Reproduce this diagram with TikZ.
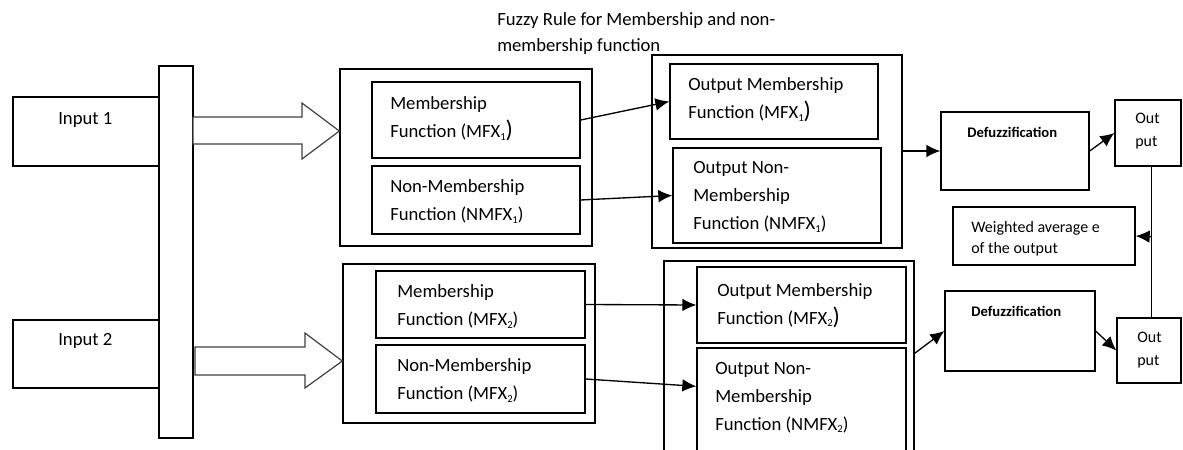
\documentclass[tikz,border=0pt]{standalone}
\usepackage{fontspec}
\setmainfont{Carlito}
\usetikzlibrary{arrows.meta,calc,fit}

% frame node spanning two corner points
\newcommand\frameat[3]{\node[box, fit={#2 #3}] (#1) {};}
% tall closing parenthesis used in some labels
\newcommand\tallparen{{\fontsize{18}{18}\selectfont)}}
% small index digit
\newcommand\idx[1]{\raisebox{-0.3ex}{\fontsize{8}{8}\selectfont #1}}

\tikzset{
  box/.style={draw, line width=1pt, inner sep=0pt},
  txt/.style={anchor=west, inner sep=0pt, align=left,
              font=\fontsize{14}{21}\selectfont},
  smalltxt/.style={anchor=west, inner sep=0pt, align=left,
              font=\fontsize{12}{16}\selectfont},
  boldtxt/.style={anchor=west, inner sep=0pt,
              font=\fontsize{11}{14}\selectfont\bfseries},
  arr/.style={line width=1pt, -{Latex[length=10.5pt,width=9.5pt]}},
  hollow/.style={draw=black!75, line width=0.9pt, fill=white, line join=miter},
}

\begin{document}
\begin{tikzpicture}[x=0.75pt,y=-0.75pt]
\useasboundingbox (0,0) rectangle (1183,450);
\fill[white] (0,0) rectangle (1183,450);
\clip (0,0) rectangle (1183,450);

% inputs and the collecting bar
\frameat{in1}{(13,97)}{(159,166)}
\frameat{in2}{(13,320)}{(159,388)}
\frameat{bar}{(159,66)}{(193,438)}
\node[txt] (in1t) at (58,120) {Input 1};
\node[txt] (in2t) at (58,341) {Input 2};

% fuzzy rule title
\node[txt, font=\fontsize{14}{20}\selectfont] (title) at (497,33.5)
  {Fuzzy Rule for Membership and non-\\membership function};

% input membership groups
\frameat{g1}{(340,69)}{(592,246)}
\frameat{mf1}{(372,82)}{(580,158)}
\frameat{nmf1}{(372,166)}{(580,234)}
\node[txt] (mf1t) at (390,119) {Membership\\Function (MFX\idx{1}\tallparen};
\node[txt] (nmf1t) at (390,201.5) {Non-Membership\\Function (NMFX\idx{1})};

\frameat{g3}{(343,264)}{(595,423)}
\frameat{mf2}{(376,271)}{(585,338)}
\frameat{nmf2}{(376,345)}{(585,413)}
\node[txt] (mf2t) at (397,306.5) {Membership\\Function (MFX\idx{2})};
\node[txt] (nmf2t) at (397,380.5) {Non-Membership\\Function (MFX\idx{2})};

% output membership groups
\frameat{g2}{(652,55)}{(902,248)}
\frameat{omf1}{(670,64)}{(878,139)}
\frameat{onmf1}{(673,148)}{(881,243)}
\node[txt] (omf1t) at (688,100) {Output Membership\\Function (MFX\idx{1}\tallparen};
\node[txt] (onmf1t) at (693,197) {Output Non-\\Membership\\Function (NMFX\idx{1})};

\frameat{g4}{(664,261)}{(914,470)}
\frameat{omf2}{(697,267)}{(906,343)}
\frameat{onmf2}{(697,348)}{(906,470)}
\node[txt] (omf2t) at (717,305.5) {Output Membership\\Function (MFX\idx{2}\tallparen};
\node[txt] (onmf2t) at (715,397.5) {Output Non-\\Membership\\Function (NMFX\idx{2})};

% defuzzification, outputs, weighted average
\frameat{dz1}{(941,112)}{(1089,190)}
\frameat{dz2}{(945,291)}{(1095,371)}
\node[boldtxt] (dz1t) at (967,132) {Defuzzification};
\node[boldtxt] (dz2t) at (971,311) {Defuzzification};

\frameat{out1}{(1115,100)}{(1181,166)}
\frameat{out2}{(1117,318)}{(1181,383)}
\node[smalltxt, font=\fontsize{12}{17.5}\selectfont] (out1t) at (1135,131) {Out\\put};
\node[smalltxt, font=\fontsize{12}{17.5}\selectfont] (out2t) at (1137,350) {Out\\put};

\frameat{wavg}{(953,207)}{(1135,265)}
\node[smalltxt] (wavgt) at (971,238.5) {Weighted average e\\of the output};

% hollow block arrows from the bar
\draw[hollow] (193,117) -- (302,117) -- (302,103) -- (g1.west |- 0,131)
  -- (302,159) -- (302,144) -- (193,144) -- cycle;
\draw[hollow] (195,347) -- (305,347) -- (305,333) -- (g3.west |- 0,361)
  -- (305,388) -- (305,375) -- (195,375) -- cycle;

% connectors
\draw[arr] (mf1.east) -- (omf1.west);
\draw[arr] (nmf1.east) -- (onmf1.west);
\draw[arr] (mf2.east) -- (omf2.west);
\draw[arr] (nmf2.east) -- ($(onmf2.north west)+(0,39)$);
\draw[arr] (g2.east |- dz1.west) -- (dz1.west);
\draw[arr] ($(g4.north east)+(0,93)$) -- (dz2.west);
\draw[arr] (dz1.east) -- (out1.west);
\draw[arr] (dz2.east) -- (out2.west);
\draw[line width=1pt] ($(out1.south west)+(37,0)$) -- ($(out2.north west)+(35,0)$);
\draw[arr] ($(out1.south west)+(37,70)$) -- (wavg.east);
\end{tikzpicture}
\end{document}
